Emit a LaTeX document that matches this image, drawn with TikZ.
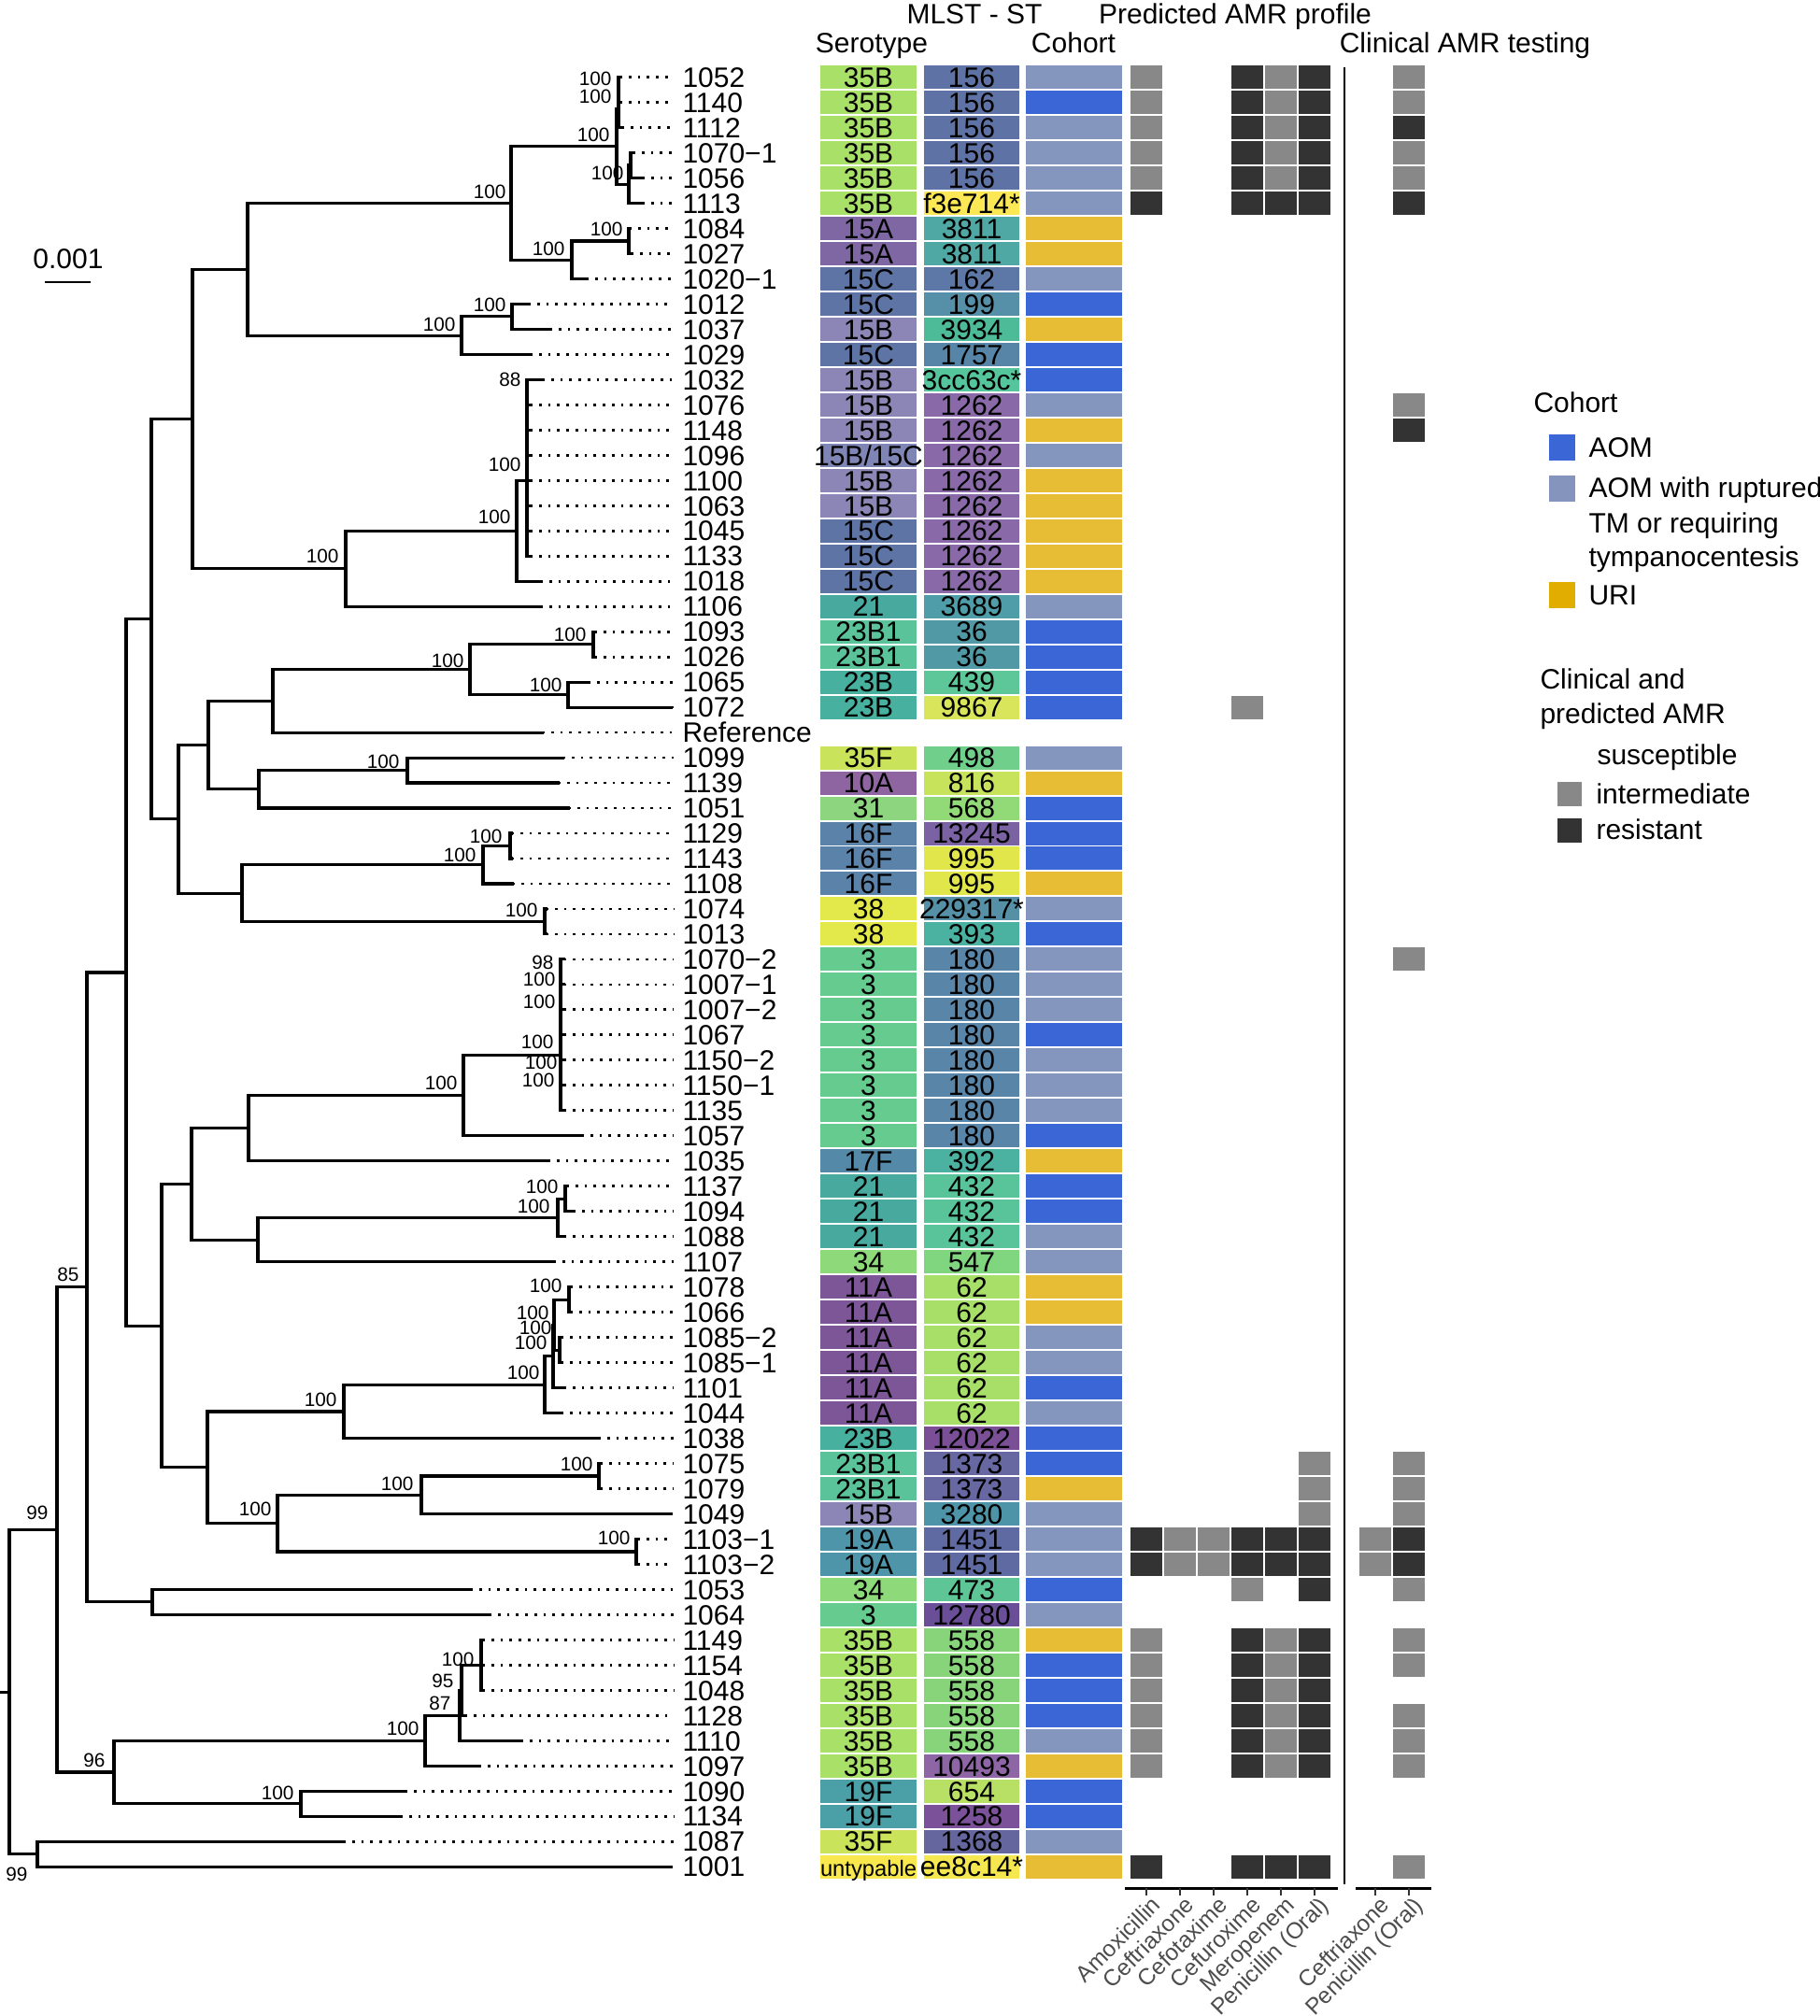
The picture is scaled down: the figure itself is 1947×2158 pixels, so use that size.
\documentclass[tikz,border=0pt]{standalone}
\usepackage{fontspec}
\setmainfont{Liberation Sans}
\pgfmathdeclarefunction{ry}{1}{\pgfmathparse{82.6+26.98*(#1-1)}}
\definecolor{cA}{HTML}{3A66D6}
\definecolor{cR}{HTML}{8596BE}
\definecolor{cU}{HTML}{E6BD35}
\definecolor{lA}{HTML}{3A66D6}
\definecolor{lR}{HTML}{8494BD}
\definecolor{lU}{HTML}{E0AD00}
\definecolor{gI}{HTML}{888888}
\definecolor{gR}{HTML}{333333}
\definecolor{axg}{HTML}{4D4D4D}
\definecolor{sXXXVB}{HTML}{A8E068}
\definecolor{sXVA}{HTML}{7F67A3}
\definecolor{sXVC}{HTML}{5E74A5}
\definecolor{sXVB}{HTML}{8C86B6}
\definecolor{sXVBC}{HTML}{7F85B5}
\definecolor{sXXI}{HTML}{48A99E}
\definecolor{sXXIIIBI}{HTML}{5AC39A}
\definecolor{sXXIIIB}{HTML}{47B09F}
\definecolor{sXXXVF}{HTML}{C9E45A}
\definecolor{sXA}{HTML}{8E65A0}
\definecolor{sXXXI}{HTML}{8DD57E}
\definecolor{sXVIF}{HTML}{5B82A9}
\definecolor{sXXXVIII}{HTML}{E3E94A}
\definecolor{sIII}{HTML}{66CB8F}
\definecolor{sXVIIF}{HTML}{5589A8}
\definecolor{sXXXIV}{HTML}{8ED97A}
\definecolor{sXIA}{HTML}{7C5697}
\definecolor{sXIXA}{HTML}{4E95A9}
\definecolor{sXIXF}{HTML}{4AA0A6}
\definecolor{sUn}{HTML}{F8E84E}
\definecolor{tA}{HTML}{5F72A6}% 156
\definecolor{tB}{HTML}{FCE855}% f3e714*
\definecolor{tC}{HTML}{4FA8A3}% 3811
\definecolor{tD}{HTML}{5D77A6}% 162
\definecolor{tE}{HTML}{5590A8}% 199
\definecolor{tF}{HTML}{4DBA98}% 3934
\definecolor{tG}{HTML}{5785A8}% 1757
\definecolor{tH}{HTML}{55C59B}% 3cc63c*
\definecolor{tI}{HTML}{8A69A8}% 1262
\definecolor{tJ}{HTML}{4F9DA8}% 3689
\definecolor{tK}{HTML}{5299A6}% 36
\definecolor{tL}{HTML}{5DC79A}% 439
\definecolor{tM}{HTML}{D9E55A}% 9867
\definecolor{tN}{HTML}{70CF8A}% 498
\definecolor{tO}{HTML}{C7E35C}% 816
\definecolor{tP}{HTML}{92D977}% 568
\definecolor{tQ}{HTML}{7B62A3}% 13245
\definecolor{tR}{HTML}{E1E74A}% 995
\definecolor{tS}{HTML}{5590A6}% 229317*
\definecolor{tT}{HTML}{4BB1A0}% 393
\definecolor{tU}{HTML}{5985A8}% 180
\definecolor{tV}{HTML}{4BB1A0}% 392
\definecolor{tW}{HTML}{59C39A}% 432
\definecolor{tX}{HTML}{80D57F}% 547
\definecolor{tY}{HTML}{A8DF68}% 62
\definecolor{tZ}{HTML}{7A4F96}% 12022
\definecolor{tAA}{HTML}{6767A2}% 1373
\definecolor{tAB}{HTML}{4D94A8}% 3280
\definecolor{tAC}{HTML}{5F6AA3}% 1451
\definecolor{tAD}{HTML}{5DC596}% 473
\definecolor{tAE}{HTML}{6A4E98}% 12780
\definecolor{tAF}{HTML}{88D47B}% 558
\definecolor{tAG}{HTML}{8E66A6}% 10493
\definecolor{tAH}{HTML}{B7E064}% 654
\definecolor{tAI}{HTML}{7B519A}% 1258
\definecolor{tAJ}{HTML}{66669F}% 1368
\definecolor{tAK}{HTML}{F5E74F}% ee8c14*
\newcommand\leaf[3]{%
  \coordinate (t#1) at (#2,{ry(#1)});
  \node[lab,anchor=west] (L#1) at (730,{ry(#1)}) {#3};
  \draw[dots] (t#1) -- (L#1.west);}
\newcommand\drow[6]{%
  \node[tile,fill=#2] (se#1) at (929.5,{ry(#1)}) {};
  \node[tt] (seT#1) at (se#1) {#3};
  \node[tile,fill=#4] (st#1) at (1040,{ry(#1)}) {};
  \node[tt] (stT#1) at (st#1) {#5};
  \node[tile,fill=#6] (co#1) at (1149.5,{ry(#1)}) {};}
\newcommand\am[3]{\node[amr,fill=#3] (am#1-#2) at (#2,{ry(#1)}) {};}
\begin{document}
\begin{tikzpicture}[x=0.4pt,y=-0.4pt,
  br/.style={line width=1.25pt,line cap=rect},
  dots/.style={line width=1.1pt,dash pattern=on 1.1pt off 2.8pt,shorten >=3.6pt},
  lab/.style={inner sep=0pt,font=\fontsize{12}{12}\selectfont,text height=8.6pt,text depth=0pt},
  bs/.style={inner sep=0pt,anchor=east,font=\fontsize{8.3}{8.3}\selectfont,text height=6pt,text depth=0pt},
  tile/.style={inner sep=0pt,minimum width=41pt,minimum height=10pt},
  tt/.style={inner sep=0pt,font=\fontsize{12}{12}\selectfont,text height=8.6pt,text depth=0pt},
  amr/.style={inner sep=0pt,minimum width=13.6pt,minimum height=10pt},
  lsq/.style={inner sep=0pt,minimum width=11.2pt,minimum height=11.2pt},
  axlab/.style={inner sep=0pt,rotate=45,anchor=north east,text=axg,font=\fontsize{9.8}{9.8}\selectfont}]
\useasboundingbox (0,0) rectangle (1947,2158);
% ---------- leaves ----------
\leaf{1}{663}{1052}
\leaf{2}{663}{1140}
\leaf{3}{665}{1112}
\leaf{4}{677}{1070−1}
\leaf{5}{687}{1056}
\leaf{6}{687}{1113}
\leaf{7}{673}{1084}
\leaf{8}{675}{1027}
\leaf{9}{627}{1020−1}
\leaf{10}{565}{1012}
\leaf{11}{588}{1037}
\leaf{12}{567}{1029}
\leaf{13}{580}{1032}
\leaf{14}{567}{1076}
\leaf{15}{567}{1148}
\leaf{16}{567}{1096}
\leaf{17}{567}{1100}
\leaf{18}{567}{1063}
\leaf{19}{567}{1045}
\leaf{20}{567}{1133}
\leaf{21}{578}{1018}
\leaf{22}{578}{1106}
\leaf{23}{636}{1093}
\leaf{24}{636}{1026}
\leaf{25}{629}{1065}
\leaf{26}{718}{1072}
\leaf{27}{580}{Reference}
\leaf{28}{602}{1099}
\leaf{29}{597}{1139}
\leaf{30}{608}{1051}
\leaf{31}{547}{1129}
\leaf{32}{547}{1143}
\leaf{33}{548}{1108}
\leaf{34}{584}{1074}
\leaf{35}{584}{1013}
\leaf{36}{603}{1070−2}
\leaf{37}{603}{1007−1}
\leaf{38}{603}{1007−2}
\leaf{39}{603}{1067}
\leaf{40}{603}{1150−2}
\leaf{41}{603}{1150−1}
\leaf{42}{603}{1135}
\leaf{43}{622}{1057}
\leaf{44}{586}{1035}
\leaf{45}{606}{1137}
\leaf{46}{613}{1094}
\leaf{47}{603}{1088}
\leaf{48}{592}{1107}
\leaf{49}{610}{1078}
\leaf{50}{610}{1066}
\leaf{51}{600}{1085−2}
\leaf{52}{600}{1085−1}
\leaf{53}{603}{1101}
\leaf{54}{600}{1044}
\leaf{55}{640}{1038}
\leaf{56}{642}{1075}
\leaf{57}{642}{1079}
\leaf{58}{717}{1049}
\leaf{59}{682}{1103−1}
\leaf{60}{682}{1103−2}
\leaf{61}{503}{1053}
\leaf{62}{523}{1064}
\leaf{63}{516}{1149}
\leaf{64}{516}{1154}
\leaf{65}{516}{1048}
\leaf{66}{497}{1128}
\leaf{67}{557}{1110}
\leaf{68}{512}{1097}
\leaf{69}{433}{1090}
\leaf{70}{428}{1134}
\leaf{71}{367}{1087}
\leaf{72}{717}{1001}
% ---------- internal nodes ----------
\coordinate (P1) at (662,{ry(1.5)});
\coordinate (P2) at (662,{ry(2.25)});
\coordinate (Yn) at (675,{ry(4.5)});
\coordinate (Xn) at (673,{ry(5.25)});
\coordinate (T35) at (660,{ry(3.75)});
\coordinate (Q1) at (673,{ry(7.5)});
\coordinate (Q2) at (612,{ry(8.25)});
\coordinate (n547) at (547,{ry(6.0)});
\coordinate (R1) at (548,{ry(10.5)});
\coordinate (n494) at (494,{ry(11.25)});
\coordinate (Na) at (265,{ry(8.625)});
\coordinate (n564) at (564,{ry(17)});
\coordinate (n553) at (553,{ry(19)});
\coordinate (Nc) at (370,{ry(20.5)});
\coordinate (Nb) at (206,{ry(14.5625)});
\coordinate (n635) at (635,{ry(23.5)});
\coordinate (n608) at (608,{ry(25.5)});
\coordinate (Nh) at (503,{ry(24.5)});
\coordinate (Ng) at (292,{ry(25.75)});
\coordinate (n436) at (436,{ry(28.5)});
\coordinate (Ni) at (277,{ry(29.25)});
\coordinate (Nf) at (223,{ry(27.5)});
\coordinate (n546) at (546,{ry(31.5)});
\coordinate (n517) at (517,{ry(32.25)});
\coordinate (n583) at (583,{ry(34.5)});
\coordinate (Nj) at (259,{ry(33.375)});
\coordinate (Ne) at (191,{ry(30.4375)});
\coordinate (Nd) at (162,{ry(22.5)});
\coordinate (n600) at (600,{ry(39.8)});
\coordinate (Nq) at (496,{ry(41.4)});
\coordinate (No) at (266,{ry(42.7)});
\coordinate (n605) at (605,{ry(45.5)});
\coordinate (Nr) at (597,{ry(46.25)});
\coordinate (Np) at (276,{ry(47.125)});
\coordinate (Nm) at (205,{ry(44.91)});
\coordinate (A1) at (609,{ry(49.5)});
\coordinate (A2) at (599,{ry(51.5)});
\coordinate (A3) at (593,{ry(50.5)});
\coordinate (A4) at (592,{ry(51.75)});
\coordinate (Nt) at (583,{ry(52.875)});
\coordinate (Ns) at (368,{ry(53.94)});
\coordinate (n641) at (641,{ry(56.5)});
\coordinate (n451) at (451,{ry(57.25)});
\coordinate (n681) at (681,{ry(59.5)});
\coordinate (Nu) at (297,{ry(58.375)});
\coordinate (Nn) at (222,{ry(56.16)});
\coordinate (Nl) at (173,{ry(50.54)});
\coordinate (Nk) at (135,{ry(36.52)});
\coordinate (n163) at (163,{ry(61.5)});
\coordinate (Nv) at (93,{ry(49.01)});
\coordinate (B1) at (515,{ry(64)});
\coordinate (B2) at (494,{ry(65)});
\coordinate (B3) at (492,{ry(66)});
\coordinate (Ny) at (455,{ry(67)});
\coordinate (n322) at (322,{ry(69.5)});
\coordinate (Nx) at (122,{ry(68.25)});
\coordinate (Nw) at (61,{ry(58.63)});
\coordinate (n40) at (40,{ry(71.5)});
\coordinate (root) at (10,{ry(65.07)});
\coordinate (r0) at (0,{ry(65.07)});
% ---------- branches ----------
\foreach \p/\c in {T35/P2,T35/Xn,P2/P1,P2/t3,P1/t1,P1/t2,Xn/Yn,Xn/t6,Yn/t4,Yn/t5,
  n547/T35,n547/Q2,Q2/Q1,Q2/t9,Q1/t7,Q1/t8,n494/R1,n494/t12,R1/t10,R1/t11,Na/n547,Na/n494,
  n564/t13,n564/t14,n564/t15,n564/t16,n564/t17,n564/t18,n564/t19,n564/t20,
  n553/n564,n553/t21,Nc/n553,Nc/t22,Nb/Na,Nb/Nc,
  n635/t23,n635/t24,n608/t25,n608/t26,Nh/n635,Nh/n608,Ng/Nh,Ng/t27,
  n436/t28,n436/t29,Ni/n436,Ni/t30,Nf/Ng,Nf/Ni,
  n546/t31,n546/t32,n517/n546,n517/t33,n583/t34,n583/t35,Nj/n517,Nj/n583,Ne/Nf,Ne/Nj,Nd/Nb,Nd/Ne,
  n600/t36,n600/t37,n600/t38,n600/t39,n600/t40,n600/t41,n600/t42,Nq/n600,Nq/t43,No/Nq,No/t44,
  n605/t45,n605/t46,Nr/n605,Nr/t47,Np/Nr,Np/t48,Nm/No,Nm/Np,
  A1/t49,A1/t50,A2/t51,A2/t52,A3/A1,A3/A2,A4/A3,A4/t53,Nt/A4,Nt/t54,Ns/Nt,Ns/t55,
  n641/t56,n641/t57,n451/n641,n451/t58,n681/t59,n681/t60,Nu/n451,Nu/n681,Nn/Ns,Nn/Nu,
  Nl/Nm,Nl/Nn,Nk/Nd,Nk/Nl,n163/t61,n163/t62,Nv/Nk,Nv/n163,
  B1/t63,B1/t64,B1/t65,B2/B1,B2/t66,B3/B2,B3/t67,Ny/B3,Ny/t68,n322/t69,n322/t70,
  Nx/Ny,Nx/n322,Nw/Nv,Nw/Nx,n40/t71,n40/t72,root/Nw,root/n40}
  {\draw[br] (\p) |- (\c);}
\draw[br] (r0) -- (root);
% ---------- bootstrap values ----------
\foreach \xx/\yy/\vv [count=\i] in {655/1.05/100,655/1.76/100,653/3.28/100,668/4.8/100,542/5.55/100,
  667/7.02/100,605/7.78/100,542/10.03/100,488/10.79/100,558/13.0/88,558/16.37/100,547/18.45/100,
  363/20.0/100,628/23.1/100,497/24.16/100,602/25.1/100,428/28.16/100,538/31.1/100,510/31.86/100,
  576/34.04/100,593/36.1/98,595/36.8/100,595/37.67/100,593/39.25/100,597/40.08/100,594/40.8/100,
  490/40.9/100,598/45.0/100,589/45.8/100,602/48.95/100,588/50.0/100,591/50.6/100,586/51.2/100,
  578/52.37/100,635/56.0/100,443/56.8/100,675/58.96/100,508/63.75/100,486/64.6/95,483/65.5/87,
  449/66.5/100,85/48.5/85,361/53.45/100,291/57.8/100,52/57.95/99,113/67.77/96,315/69.05/100,30/72.3/99}
  {\node[bs] (bs\i) at (\xx,{ry(\yy)}) {\vv};}
% ---------- scale bar ----------
\node[lab] (sbt) at (73,277) {0.001};
\coordinate (sbL) at (48,302);
\coordinate (sbR) at (97,302);
\draw[line width=1pt] (sbL) -- (sbR);
% ---------- headers ----------
\node[lab] (hST) at (1043,14.5) {MLST - ST};
\node[lab] (hAMR) at (1322,14.5) {Predicted AMR profile};
\node[lab] (hSe) at (933,46) {Serotype};
\node[lab] (hCo) at (1149,46) {Cohort};
\node[lab] (hCl) at (1568,46) {Clinical AMR testing};
% ---------- data tiles ----------
\drow{1}{sXXXVB}{35B}{tA}{156}{cR}
\drow{2}{sXXXVB}{35B}{tA}{156}{cA}
\drow{3}{sXXXVB}{35B}{tA}{156}{cR}
\drow{4}{sXXXVB}{35B}{tA}{156}{cR}
\drow{5}{sXXXVB}{35B}{tA}{156}{cR}
\drow{6}{sXXXVB}{35B}{tB}{f3e714*}{cR}
\drow{7}{sXVA}{15A}{tC}{3811}{cU}
\drow{8}{sXVA}{15A}{tC}{3811}{cU}
\drow{9}{sXVC}{15C}{tD}{162}{cR}
\drow{10}{sXVC}{15C}{tE}{199}{cA}
\drow{11}{sXVB}{15B}{tF}{3934}{cU}
\drow{12}{sXVC}{15C}{tG}{1757}{cA}
\drow{13}{sXVB}{15B}{tH}{3cc63c*}{cA}
\drow{14}{sXVB}{15B}{tI}{1262}{cR}
\drow{15}{sXVB}{15B}{tI}{1262}{cU}
\drow{16}{sXVBC}{15B/15C}{tI}{1262}{cR}
\drow{17}{sXVB}{15B}{tI}{1262}{cU}
\drow{18}{sXVB}{15B}{tI}{1262}{cU}
\drow{19}{sXVC}{15C}{tI}{1262}{cU}
\drow{20}{sXVC}{15C}{tI}{1262}{cU}
\drow{21}{sXVC}{15C}{tI}{1262}{cU}
\drow{22}{sXXI}{21}{tJ}{3689}{cR}
\drow{23}{sXXIIIBI}{23B1}{tK}{36}{cA}
\drow{24}{sXXIIIBI}{23B1}{tK}{36}{cA}
\drow{25}{sXXIIIB}{23B}{tL}{439}{cA}
\drow{26}{sXXIIIB}{23B}{tM}{9867}{cA}
\drow{28}{sXXXVF}{35F}{tN}{498}{cR}
\drow{29}{sXA}{10A}{tO}{816}{cU}
\drow{30}{sXXXI}{31}{tP}{568}{cA}
\drow{31}{sXVIF}{16F}{tQ}{13245}{cA}
\drow{32}{sXVIF}{16F}{tR}{995}{cA}
\drow{33}{sXVIF}{16F}{tR}{995}{cU}
\drow{34}{sXXXVIII}{38}{tS}{229317*}{cR}
\drow{35}{sXXXVIII}{38}{tT}{393}{cA}
\drow{36}{sIII}{3}{tU}{180}{cR}
\drow{37}{sIII}{3}{tU}{180}{cR}
\drow{38}{sIII}{3}{tU}{180}{cR}
\drow{39}{sIII}{3}{tU}{180}{cA}
\drow{40}{sIII}{3}{tU}{180}{cR}
\drow{41}{sIII}{3}{tU}{180}{cR}
\drow{42}{sIII}{3}{tU}{180}{cR}
\drow{43}{sIII}{3}{tU}{180}{cA}
\drow{44}{sXVIIF}{17F}{tV}{392}{cU}
\drow{45}{sXXI}{21}{tW}{432}{cA}
\drow{46}{sXXI}{21}{tW}{432}{cA}
\drow{47}{sXXI}{21}{tW}{432}{cR}
\drow{48}{sXXXIV}{34}{tX}{547}{cR}
\drow{49}{sXIA}{11A}{tY}{62}{cU}
\drow{50}{sXIA}{11A}{tY}{62}{cU}
\drow{51}{sXIA}{11A}{tY}{62}{cR}
\drow{52}{sXIA}{11A}{tY}{62}{cR}
\drow{53}{sXIA}{11A}{tY}{62}{cA}
\drow{54}{sXIA}{11A}{tY}{62}{cR}
\drow{55}{sXXIIIB}{23B}{tZ}{12022}{cA}
\drow{56}{sXXIIIBI}{23B1}{tAA}{1373}{cA}
\drow{57}{sXXIIIBI}{23B1}{tAA}{1373}{cU}
\drow{58}{sXVB}{15B}{tAB}{3280}{cR}
\drow{59}{sXIXA}{19A}{tAC}{1451}{cR}
\drow{60}{sXIXA}{19A}{tAC}{1451}{cR}
\drow{61}{sXXXIV}{34}{tAD}{473}{cA}
\drow{62}{sIII}{3}{tAE}{12780}{cR}
\drow{63}{sXXXVB}{35B}{tAF}{558}{cU}
\drow{64}{sXXXVB}{35B}{tAF}{558}{cA}
\drow{65}{sXXXVB}{35B}{tAF}{558}{cA}
\drow{66}{sXXXVB}{35B}{tAF}{558}{cA}
\drow{67}{sXXXVB}{35B}{tAF}{558}{cR}
\drow{68}{sXXXVB}{35B}{tAG}{10493}{cU}
\drow{69}{sXIXF}{19F}{tAH}{654}{cA}
\drow{70}{sXIXF}{19F}{tAI}{1258}{cA}
\drow{71}{sXXXVF}{35F}{tAJ}{1368}{cR}
\drow{72}{sUn}{\fontsize{9.5}{9.5}\selectfont untypable}{tAK}{ee8c14*}{cU}
% ---------- AMR tiles ----------
\foreach \r in {1,2,4,5} {\am{\r}{1227}{gI}\am{\r}{1335}{gR}\am{\r}{1371}{gI}\am{\r}{1407}{gR}\am{\r}{1508}{gI}}
\am{3}{1227}{gI}\am{3}{1335}{gR}\am{3}{1371}{gI}\am{3}{1407}{gR}\am{3}{1508}{gR}
\am{6}{1227}{gR}\am{6}{1335}{gR}\am{6}{1371}{gR}\am{6}{1407}{gR}\am{6}{1508}{gR}
\am{14}{1508}{gI}
\am{15}{1508}{gR}
\am{26}{1335}{gI}
\am{36}{1508}{gI}
\foreach \r in {56,57,58} {\am{\r}{1407}{gI}\am{\r}{1508}{gI}}
\foreach \r in {59,60} {\am{\r}{1227}{gR}\am{\r}{1263}{gI}\am{\r}{1299}{gI}\am{\r}{1335}{gR}\am{\r}{1371}{gR}\am{\r}{1407}{gR}\am{\r}{1472}{gI}\am{\r}{1508}{gR}}
\am{61}{1335}{gI}\am{61}{1407}{gR}\am{61}{1508}{gI}
\foreach \r in {63,64,65,66,67,68} {\am{\r}{1227}{gI}\am{\r}{1335}{gR}\am{\r}{1371}{gI}\am{\r}{1407}{gR}}
\foreach \r in {63,64,66,67,68} {\am{\r}{1508}{gI}}
\am{72}{1227}{gR}\am{72}{1335}{gR}\am{72}{1371}{gR}\am{72}{1407}{gR}\am{72}{1508}{gI}
% ---------- separator ----------
\coordinate (sepT) at (1439,72);
\coordinate (sepB) at (1439,2017);
\draw[line width=0.8pt] (sepT) -- (sepB);
% ---------- bottom axes ----------
\coordinate (axAL) at (1204,2021);
\coordinate (axAR) at (1432,2021);
\coordinate (axBL) at (1451,2021);
\coordinate (axBR) at (1532,2021);
\draw[line width=1.2pt] (axAL) -- (axAR);
\draw[line width=1.2pt] (axBL) -- (axBR);
\foreach \x in {1227,1263,1299,1335,1371,1407,1472,1508}
  {\draw[line width=0.9pt,draw=gR] (\x,2021) -- (\x,2029);}
\node[axlab] (x1) at (1231,2028) {Amoxicillin};
\node[axlab] (x2) at (1267,2028) {Ceftriaxone};
\node[axlab] (x3) at (1303,2028) {Cefotaxime};
\node[axlab] (x4) at (1339,2028) {Cefuroxime};
\node[axlab] (x5) at (1375,2028) {Meropenem};
\node[axlab] (x6) at (1411,2028) {Penicillin (Oral)};
\node[axlab] (x7) at (1476,2028) {Ceftriaxone};
\node[axlab] (x8) at (1512,2028) {Penicillin (Oral)};
% ---------- legend ----------
\node[lab,anchor=west] (lgT) at (1641,431) {Cohort};
\node[lsq,fill=lA] (lgA) at (1672,479) {};
\node[lab,anchor=west] (lgAt) at (1700,479) {AOM};
\node[lsq,fill=lR] (lgR) at (1672,523) {};
\node[lab,anchor=west] (lgRt1) at (1700,522) {AOM with ruptured};
\node[lab,anchor=west] (lgRt2) at (1700,560) {TM or requiring};
\node[lab,anchor=west] (lgRt3) at (1700,596) {tympanocentesis};
\node[lsq,fill=lU] (lgU) at (1672,637) {};
\node[lab,anchor=west] (lgUt) at (1700,637) {URI};
\node[lab,anchor=west] (lgT2) at (1648,727) {Clinical and};
\node[lab,anchor=west] (lgT3) at (1648,764) {predicted AMR};
\node[lab,anchor=west] (lgS) at (1709,808) {susceptible};
\node[lsq,fill=gI,minimum width=10.2pt,minimum height=10.2pt] (lgI) at (1680,850) {};
\node[lab,anchor=west] (lgIt) at (1708,850) {intermediate};
\node[lsq,fill=gR,minimum width=10.2pt,minimum height=10.2pt] (lgRs) at (1680,889) {};
\node[lab,anchor=west] (lgRst) at (1708,888) {resistant};
\end{tikzpicture}
\end{document}
